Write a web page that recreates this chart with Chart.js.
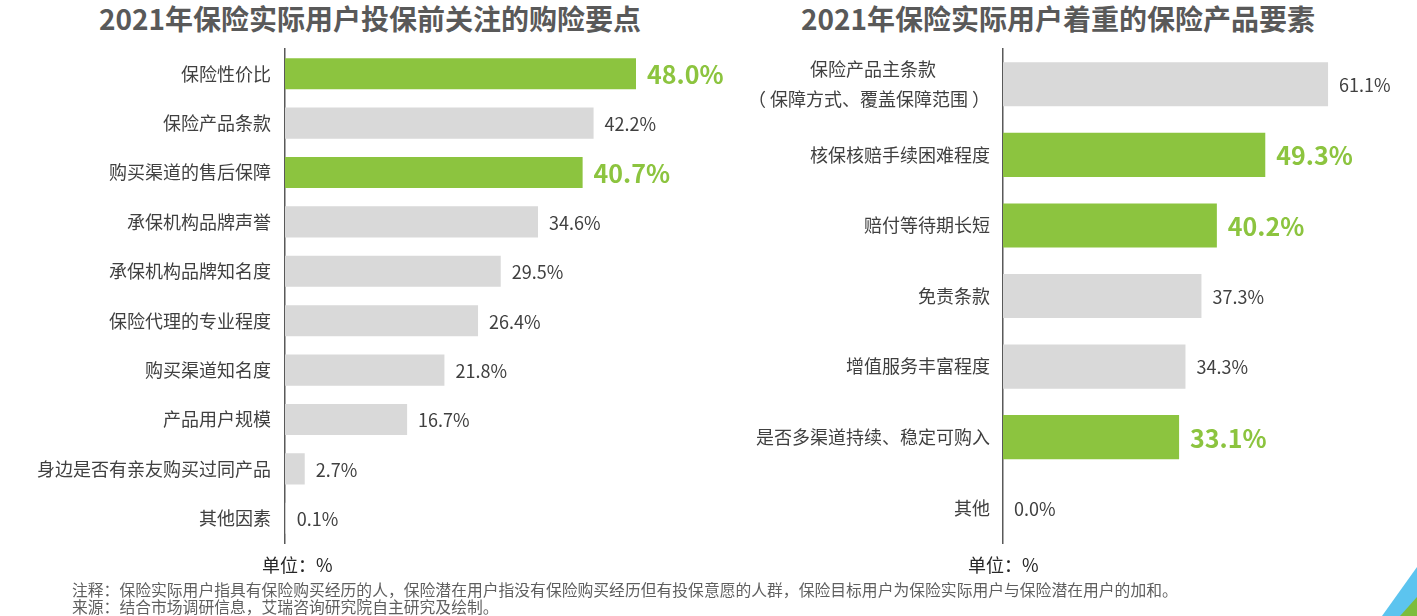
<!DOCTYPE html>
<html lang="zh-CN">
<head>
<meta charset="utf-8">
<title>2021年保险实际用户调研</title>
<script src="https://cdn.jsdelivr.net/npm/chart.js@4.4.1/dist/chart.umd.min.js"></script>
<style>
  html, body { margin: 0; padding: 0; background: #fff; }
  body { width: 1417px; height: 616px; position: relative; overflow: hidden; font-family: "Noto Sans CJK SC", "Noto Sans", sans-serif; }
  canvas { position: absolute; top: 0; }
  #leftChart { left: 0; }
  #rightChart { left: 740px; }
  .title { position: absolute; top: 0; line-height: 36px; font-size: 28px; font-weight: bold; color: #595959; white-space: nowrap; transform: translateX(-50%); }
  .unit { position: absolute; top: 553px; line-height: 22px; font-size: 18px; color: #262626; white-space: nowrap; }
  .note { position: absolute; left: 72px; font-size: 15.8px; line-height: 17px; color: #5f5f5f; white-space: nowrap; }
  .corner { position: absolute; left: 1300px; top: 520px; width: 117px; height: 96px; }
  .corner.blue { background: #5cc4ef; clip-path: polygon(82px 96px, 117px 47px, 117px 96px); }
  .corner.green { background: #7cbd3c; clip-path: polygon(100px 96px, 117px 77px, 117px 96px); }
</style>
</head>
<body>
<div class="title" style="left:370px">2021年保险实际用户投保前关注的购险要点</div>
<div class="title" style="left:1058px">2021年保险实际用户着重的保险产品要素</div>

<canvas id="leftChart" width="740" height="616"></canvas>
<canvas id="rightChart" width="677" height="616"></canvas>

<div class="unit" style="left:262px">单位：%</div>
<div class="unit" style="left:968px">单位：%</div>
<div class="note" style="top:581px">注释：保险实际用户指具有保险购买经历的人，保险潜在用户指没有保险购买经历但有投保意愿的人群，保险目标用户为保险实际用户与保险潜在用户的加和。</div>
<div class="note" style="top:598px">来源：结合市场调研信息，艾瑞咨询研究院自主研究及绘制。</div>
<div class="corner blue"></div>
<div class="corner green"></div>

<script>
// Data
const leftLabels = ['保险性价比', '保险产品条款', '购买渠道的售后保障', '承保机构品牌声誉', '承保机构品牌知名度',
  '保险代理的专业程度', '购买渠道知名度', '产品用户规模', '身边是否有亲友购买过同产品', '其他因素'];
const leftValues = [48.0, 42.2, 40.7, 34.6, 29.5, 26.4, 21.8, 16.7, 2.7, 0.1];
const leftHighlight = [0, 2];

// first label is two lines; trailing ideographic spaces keep line 1 centred over line 2
const rightLabels = [['保险产品主条款\u3000\u3000\u3000', '（ 保障方式、覆盖保障范围 ）'], '核保核赔手续困难程度', '赔付等待期长短',
  '免责条款', '增值服务丰富程度', '是否多渠道持续、稳定可购入', '其他'];
const rightValues = [61.1, 49.3, 40.2, 37.3, 34.3, 33.1, 0.0];
const rightHighlight = [1, 2, 5];

const GREEN = '#8cc43f';
const GREY = '#d9d9d9';
const FONT = '"Noto Sans CJK SC", "Noto Sans", sans-serif';

Chart.defaults.font.family = FONT;

// value labels at the end of each bar; highlighted ones are bigger, bold and green
const barValueLabels = {
  id: 'barValueLabels',
  afterDatasetsDraw(chart, args, opts) {
    const ctx = chart.ctx;
    const meta = chart.getDatasetMeta(0);
    const values = chart.data.datasets[0].data;
    ctx.save();
    ctx.textAlign = 'left';
    ctx.textBaseline = 'middle';
    meta.data.forEach((bar, i) => {
      const hot = opts.highlight.includes(i);
      ctx.font = hot ? `bold 25px ${FONT}` : `18px ${FONT}`;
      ctx.fillStyle = hot ? GREEN : '#404040';
      ctx.fillText(values[i].toFixed(1) + '%', bar.x + 11, bar.y + 1);
    });
    ctx.restore();
  }
};

function makeBarChart(canvasId, labels, values, highlight, opts) {
  const colors = values.map((v, i) => highlight.includes(i) ? GREEN : GREY);
  return new Chart(document.getElementById(canvasId).getContext('2d'), {
    type: 'bar',
    data: {
      labels,
      datasets: [{ data: values, backgroundColor: colors, borderWidth: 0,
        barPercentage: opts.barPct, categoryPercentage: 1 }]
    },
    options: {
      indexAxis: 'y',
      responsive: false,
      animation: false,
      devicePixelRatio: 1,
      layout: { padding: { left: 0, top: 49, bottom: 73, right: opts.padRight } },
      plugins: {
        legend: { display: false },
        tooltip: { enabled: false },
        barValueLabels: { highlight }
      },
      scales: {
        x: { display: false, min: 0, max: opts.xMax },
        y: {
          grid: { display: false, drawTicks: false },
          border: { display: true, color: '#595959', width: 1.5 },
          ticks: { color: '#404040', padding: opts.tickPad, font: { size: 18, lineHeight: 1.67 } },
          afterFit(scale) { scale.width = opts.axisWidth; }
        }
      }
    },
    plugins: [barValueLabels]
  });
}

// left: axis at x=285, ~7.31 px per percent
makeBarChart('leftChart', leftLabels, leftValues, leftHighlight,
  { axisWidth: 285, xMax: 55, padRight: 740 - 285 - 55 * 7.3125, barPct: 0.63, tickPad: 14 });

// right: axis at x=1003 (263 inside its canvas), ~5.32 px per percent
makeBarChart('rightChart', rightLabels, rightValues, rightHighlight,
  { axisWidth: 263, xMax: 70, padRight: 677 - 263 - 70 * 5.32, barPct: 0.625, tickPad: 13 });
</script>
</body>
</html>
